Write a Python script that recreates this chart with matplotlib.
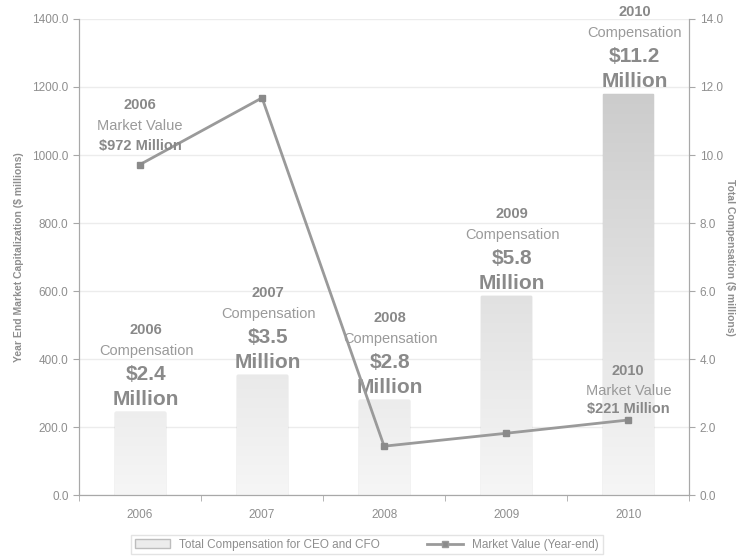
import numpy as np
import matplotlib.pyplot as plt
from matplotlib.colors import LinearSegmentedColormap
from matplotlib.patches import Patch
from matplotlib.lines import Line2D

plt.rcParams["font.family"] = ["Liberation Sans", "DejaVu Sans"]

years = ["2006", "2007", "2008", "2009", "2010"]
compensation = [2.45, 3.53, 2.79, 5.85, 11.8]          # $ millions (bars, right axis)
comp_labels = ["$2.4", "$3.5", "$2.8", "$5.8", "$11.2"]
market_value = [972, 1168, 144, 182, 221]               # $ millions (line, left axis)
mv_labels = {0: "$972 Million", 4: "$221 Million"}

txt = "#8e8e8e"
axc = "#a8a8a8"

fig = plt.figure(figsize=(7.38, 5.57), dpi=100)
ax = fig.add_axes([0.107, 0.111, 0.827, 0.855])
ax2 = ax.twinx()
ax.set_zorder(2)
ax2.set_zorder(1)
ax.patch.set_visible(False)

x = np.arange(len(years))

# bars with a soft vertical gradient
cmap = LinearSegmentedColormap.from_list("g", ["#f6f6f6", "#c4c4c4"])
grad = np.linspace(0, 1, 256).reshape(-1, 1)
bars = ax2.bar(x, compensation, width=0.41, color="#ececec", edgecolor="#bdbdbd", linewidth=1, zorder=2)
for b in bars:
    im = ax2.imshow(grad, extent=[b.get_x(), b.get_x() + b.get_width(), 0, 14], origin="lower",
                    cmap=cmap, aspect="auto", zorder=2, vmin=0, vmax=1)
    im.set_clip_path(b)
ax2.set_xlim(-0.5, 4.5)
ax2.set_ylim(0, 14)
ax2.set_yticks(np.arange(0, 14.1, 2))
ax2.set_yticklabels([f"{v:.1f}" for v in np.arange(0, 14.1, 2)])
ax2.yaxis.grid(True, color="#ececec", linewidth=1)
ax2.set_axisbelow(True)

ax.plot(x, market_value, color="#9a9a9a", linewidth=2, marker="s", markersize=4,
        markerfacecolor="#8a8a8a", markeredgecolor="#8a8a8a", zorder=5)
ax.set_xlim(-0.5, 4.5)
ax.set_ylim(0, 1400)
ax.set_yticks(np.arange(0, 1401, 200))
ax.set_yticklabels([f"{v:.1f}" for v in np.arange(0, 1401, 200)])
ax.set_xticks(x)
ax.set_xticklabels(years)
ax.set_xticks(np.arange(-0.5, 5, 1), minor=True)
ax.tick_params(axis="x", which="major", length=0, pad=10)
ax.tick_params(axis="x", which="minor", length=4, color=axc, direction="out")

for a in (ax, ax2):
    for s in a.spines.values():
        s.set_color(axc)
    a.spines["top"].set_visible(False)
    a.tick_params(axis="y", colors=txt, labelsize=8.5, length=4)
    a.tick_params(axis="y", color=axc)
ax.tick_params(axis="x", colors=txt, labelsize=8.5)
ax.tick_params(axis="x", which="minor", color=axc)

ax.set_ylabel("Year End Market Capitalization ($ millions)", color=txt, fontsize=7.5, fontweight="bold", labelpad=6)
ax2.set_ylabel("Total Compensation ($ millions)", color=txt, fontsize=7.5, fontweight="bold",
               rotation=270, labelpad=9)

# compensation annotations above bars
for i, (v, lab) in enumerate(zip(compensation, comp_labels)):
    xx = i + 0.05
    for text, dy, size, weight, col in [
        (years[i], 59, 10.5, "bold", "#888888"),
        ("Compensation", 44, 10.5, "normal", "#9a9a9a"),
        (lab, 27, 15, "bold", "#8a8a8a"),
        ("Million", 9, 15, "bold", "#8a8a8a"),
    ]:
        ax2.annotate(text, (xx, v), xytext=(0, dy), textcoords="offset points",
                     ha="center", va="center", fontsize=size, fontweight=weight, color=col, zorder=6)

# market value annotations
for i, dys in [(0, (43, 28, 13)), (4, (35, 21, 8))]:
    for text, dy, weight, col in zip([years[i], "Market Value", mv_labels[i]], dys,
                                     ["bold", "normal", "bold"], ["#888888", "#9a9a9a", "#888888"]):
        ax.annotate(text, (i, market_value[i]), xytext=(0, dy), textcoords="offset points",
                    ha="center", va="center", fontsize=10.5, fontweight=weight, color=col, zorder=6)

handles = [Patch(facecolor="#ececec", edgecolor="#bdbdbd", label="Total Compensation for CEO and CFO"),
           Line2D([0], [0], color="#9a9a9a", linewidth=2, marker="s", markersize=4,
                  markerfacecolor="#8a8a8a", label="Market Value (Year-end)")]
leg = fig.legend(handles=handles, loc="center", bbox_to_anchor=(0.497, 0.022), ncol=2, fontsize=8.5,
                 frameon=True, fancybox=False, edgecolor="#dddddd", handlelength=3, columnspacing=4,
                 borderpad=0.3)
for t in leg.get_texts():
    t.set_color(txt)

fig.savefig("out.png", dpi=100)
